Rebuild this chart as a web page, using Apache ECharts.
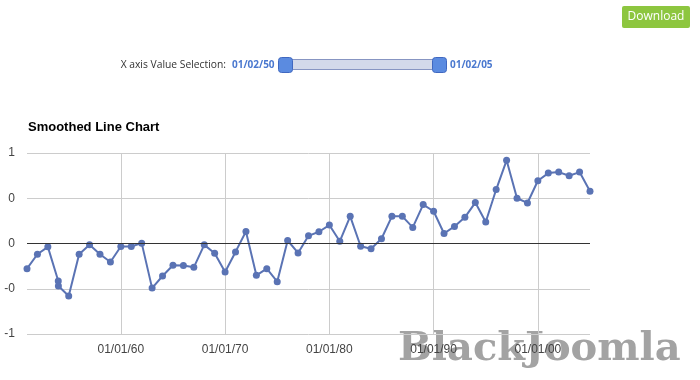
<!DOCTYPE html>
<html>
<head>
<meta charset="utf-8">
<script src="https://cdn.jsdelivr.net/npm/echarts@6/dist/echarts.min.js"></script>
<style>
html,body{margin:0;padding:0;background:#fff;}
#chart{width:700px;height:380px;}
</style>
</head>
<body>
<div id="chart"></div>
<script>
// ---- data ----
var dates = [
  '1951-01-01','1952-01-01','1953-01-01','1954-01-01','1954-01-05','1955-01-01','1956-01-01','1957-01-01','1958-01-01','1959-01-01',
  '1960-01-01','1961-01-01','1962-01-01','1963-01-01','1964-01-01','1965-01-01','1966-01-01','1967-01-01','1968-01-01','1969-01-01',
  '1970-01-01','1971-01-01','1972-01-01','1973-01-01','1974-01-01','1975-01-01','1976-01-01','1977-01-01','1978-01-01','1979-01-01',
  '1980-01-01','1981-01-01','1982-01-01','1983-01-01','1984-01-01','1985-01-01','1986-01-01','1987-01-01','1988-01-01','1989-01-01',
  '1990-01-01','1991-01-01','1992-01-01','1993-01-01','1994-01-01','1995-01-01','1996-01-01','1997-01-01','1998-01-01','1999-01-01',
  '2000-01-01','2001-01-01','2002-01-01','2003-01-01','2004-01-01','2005-01-01'
];
var values = [
  -0.278,-0.119,-0.037,-0.415,-0.470,-0.581,-0.119,-0.015,-0.119,-0.204,
  -0.033,-0.033,0.004,-0.493,-0.359,-0.241,-0.244,-0.263,-0.015,-0.107,
  -0.315,-0.093,0.133,-0.352,-0.278,-0.422,0.033,-0.104,0.085,0.130,
  0.204,0.024,0.300,-0.030,-0.059,0.052,0.300,0.300,0.178,0.430,
  0.356,0.111,0.189,0.289,0.452,0.237,0.596,0.919,0.500,0.448,
  0.693,0.778,0.789,0.748,0.789,0.578
];
var xTickYears = [1960, 1970, 1980, 1990, 2000];
var yTickValues = [-1, -0.5, 0, 0.5, 1];
var yTickLabels = ['-1', '-0', '0', '0', '1'];
var titleText = 'Smoothed Line Chart';
var sliderLabel = 'X axis Value Selection:';
var sliderStart = '01/02/50';
var sliderEnd = '01/02/05';
var buttonText = 'Download';
var watermarkText = 'BlackJoomla';

// ---- chart ----
function pad(n){ return (n < 10 ? '0' : '') + n; }
// date string -> decimal year
function toYear(s){
  var p = s.split('-');
  var y = +p[0], m = +p[1], d = +p[2];
  var start = Date.UTC(y, 0, 1), end = Date.UTC(y + 1, 0, 1);
  return y + (Date.UTC(y, m - 1, d) - start) / (end - start);
}
function fmtYear(v){
  var y = Math.floor(v + 1e-9);
  return '01/01/' + pad(y % 100);
}
var seriesData = dates.map(function(d, i){ return [toYear(d), values[i]]; });

var chart = echarts.init(document.getElementById('chart'), null, {renderer: 'canvas'});
chart.setOption({
  animation: false,
  backgroundColor: '#fff',
  title: {
    text: titleText,
    left: 28, top: 121, padding: 0,
    textStyle: {fontFamily: 'Arial, Liberation Sans', fontSize: 13, fontWeight: 'bold', color: '#000'}
  },
  grid: {left: 27, right: 110, top: 153, bottom: 46, containLabel: false},
  xAxis: {
    type: 'value',
    min: 'dataMin',
    max: 'dataMax',
    axisLine: {show: false},
    axisTick: {show: false, customValues: xTickYears},
    axisLabel: {
      customValues: xTickYears,
      formatter: function(v){ return fmtYear(v); },
      color: '#444', fontSize: 12, fontFamily: 'Arial, Liberation Sans', margin: 10
    },
    splitLine: {show: true, lineStyle: {color: '#cccccc', width: 1}}
  },
  yAxis: {
    type: 'value',
    min: -1, max: 1, interval: 0.5,
    axisLine: {show: false},
    axisTick: {show: false},
    axisLabel: {
      formatter: function(v){
        for (var i = 0; i < yTickValues.length; i++) {
          if (Math.abs(yTickValues[i] - v) < 1e-9) return yTickLabels[i];
        }
        return '';
      },
      color: '#444', fontSize: 12, fontFamily: 'Arial, Liberation Sans', margin: 12
    },
    splitLine: {show: true, lineStyle: {color: '#cccccc', width: 1}}
  },
  series: [{
    type: 'line',
    data: seriesData,
    symbol: 'circle',
    symbolSize: 7,
    showSymbol: true,
    color: '#5a73b4',
    lineStyle: {width: 2, color: '#5a73b4'},
    itemStyle: {color: '#5a73b4'},
    markLine: {
      silent: true,
      symbol: ['none', 'none'],
      label: {show: false},
      lineStyle: {color: '#333', type: 'solid', width: 1},
      data: [{yAxis: 0}]
    }
  }],
  graphic: [
    {type: 'text', z: -10, left: 398, top: 330,
     style: {text: watermarkText, fill: '#a3a3a3', font: 'bold 40px "DejaVu Serif", serif'}},
    {type: 'rect', left: 622, top: 6, shape: {width: 68, height: 22, r: 2},
     style: {fill: '#8dc63f'}},
    {type: 'text', x: 656, y: 17,
     style: {text: buttonText, fill: '#fff', font: '12px "Open Sans", sans-serif', align: 'center', verticalAlign: 'middle'}},
    {type: 'text', x: 226, y: 65,
     style: {text: sliderLabel, fill: '#333', font: '10.3px "Open Sans", sans-serif', align: 'right', verticalAlign: 'middle'}},
    {type: 'text', x: 232, y: 65,
     style: {text: sliderStart, fill: '#4a78cf', font: 'bold 10px "Open Sans", sans-serif', align: 'left', verticalAlign: 'middle'}},
    {type: 'rect', shape: {x: 285, y: 59.5, width: 154, height: 10},
     style: {fill: '#d3d9ea', stroke: '#8795c2', lineWidth: 1}},
    {type: 'rect', shape: {x: 278.5, y: 57.5, width: 14, height: 15, r: 3},
     style: {fill: '#5b8be0', stroke: '#4068c0', lineWidth: 1}},
    {type: 'rect', shape: {x: 432.5, y: 57.5, width: 14, height: 15, r: 3},
     style: {fill: '#5b8be0', stroke: '#4068c0', lineWidth: 1}},
    {type: 'text', x: 450, y: 65,
     style: {text: sliderEnd, fill: '#4a78cf', font: 'bold 10px "Open Sans", sans-serif', align: 'left', verticalAlign: 'middle'}}
  ]
});
</script>
</body>
</html>
